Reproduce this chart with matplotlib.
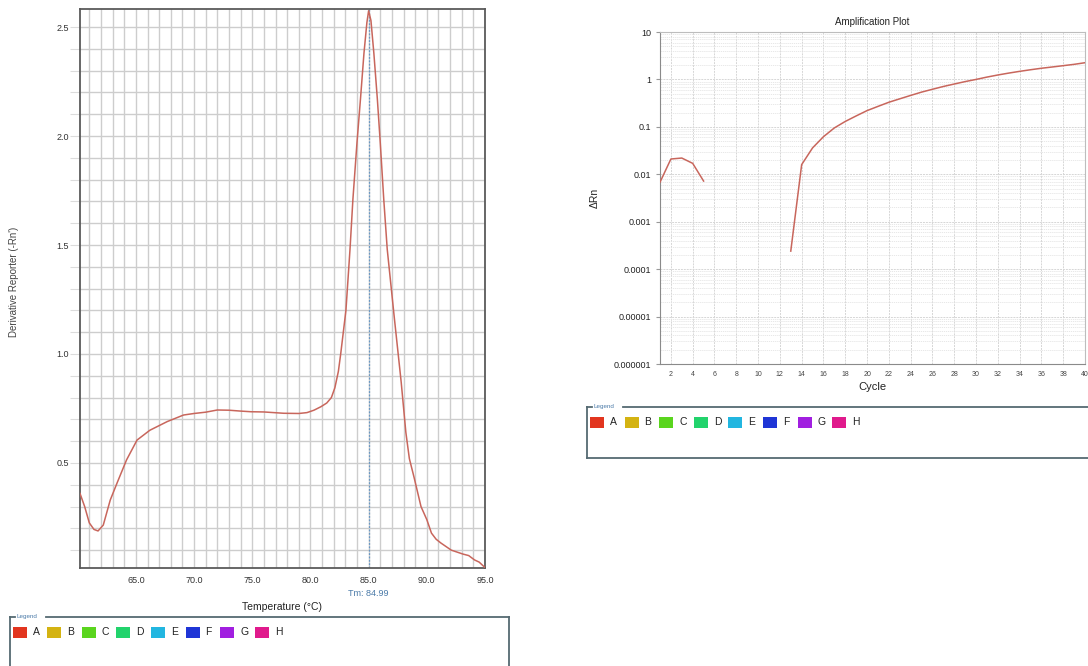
import numpy as np
import matplotlib.pyplot as plt
from matplotlib.patches import Rectangle
from matplotlib.lines import Line2D
from matplotlib.ticker import FixedLocator, NullFormatter

plt.rcParams['font.family'] = ['Liberation Sans', 'DejaVu Sans']

# melt curve (derivative reporter vs temperature)
melt_temp = [60.2, 60.6, 61.0, 61.4, 61.75, 62.2, 62.8, 63.4, 64.2, 65.1, 66.2, 67.7,
             69.1, 70.0, 71.0, 72.0, 73.0, 74.0, 74.9, 76.0, 77.7, 79.0, 79.7, 80.3,
             80.9, 81.4, 81.8, 82.1, 82.4, 82.6, 83.05, 83.4, 83.65, 84.0, 84.3, 84.6,
             84.85, 85.0, 85.2, 85.45, 85.75, 86.0, 86.3, 86.6, 87.2, 87.8, 88.2, 88.5,
             88.9, 89.5, 90.0, 90.4, 90.8, 91.2, 92.1, 93.1, 93.6, 94.1, 94.5, 95.0]
melt_deriv = [0.36, 0.30, 0.225, 0.195, 0.188, 0.215, 0.33, 0.41, 0.514, 0.605, 0.65, 0.69,
              0.72, 0.727, 0.733, 0.743, 0.742, 0.738, 0.735, 0.734, 0.728, 0.727, 0.731, 0.742,
              0.758, 0.775, 0.80, 0.845, 0.92, 1.0, 1.2, 1.48, 1.71, 1.97, 2.17, 2.38,
              2.52, 2.575, 2.53, 2.38, 2.17, 1.97, 1.71, 1.48, 1.17, 0.87, 0.64, 0.52,
              0.435, 0.30, 0.24, 0.178, 0.15, 0.133, 0.10, 0.082, 0.075, 0.055, 0.045, 0.02]
tm_value = 84.99
melt_xticks = [65, 70, 75, 80, 85, 90, 95]
melt_yticks = [0.5, 1.0, 1.5, 2.0, 2.5]

# amplification plot (log delta Rn vs cycle)
cycles_early = [1, 2, 3, 4, 5]
drn_early = [0.0068, 0.021, 0.022, 0.017, 0.0072]
cycles_late = list(range(13, 41))
drn_late = [0.00024, 0.016, 0.036, 0.062, 0.095, 0.13, 0.17, 0.22, 0.27, 0.33,
            0.39, 0.46, 0.54, 0.62, 0.71, 0.80, 0.90, 1.0, 1.12, 1.24,
            1.36, 1.48, 1.60, 1.72, 1.83, 1.95, 2.08, 2.25]
amp_yticks = [1e-6, 1e-5, 1e-4, 1e-3, 1e-2, 1e-1, 1, 10]
amp_ylabels = ['0.000001', '0.00001', '0.0001', '0.001', '0.01', '0.1', '1', '10']
amp_xticks = list(range(2, 41, 2))

wells = ['A', 'B', 'C', 'D', 'E', 'F', 'G', 'H']
well_colors = ['#e2351f', '#d4b312', '#5ad51e', '#22d36c', '#22b6e0', '#1f35d6', '#a11fe0', '#e01a8c']

W, H = 1088, 666
curve_color = '#c8665c'


def fx(px):
    return px / W


def fy(py):
    return 1 - py / H


fig = plt.figure(figsize=(W / 100, H / 100), dpi=100)
fig.patch.set_facecolor('white')

# ---------- melt curve ----------
ax1 = fig.add_axes([fx(80), fy(568), fx(485) - fx(80), fy(9) - fy(568)])
ax1.plot(melt_temp, melt_deriv, color=curve_color, lw=1.1, zorder=3)
ax1.axvline(tm_value, color='#6a98c4', lw=0.9, ls=(0, (1.5, 1.2)), zorder=2)
ax1.set_xlim(60.2, 95.0)
ax1.set_ylim(0.018, 2.583)
ax1.set_xticks(melt_xticks)
ax1.set_xticklabels([f'{t:.1f}' for t in melt_xticks])
ax1.set_yticks(melt_yticks)
ax1.set_yticklabels([f'{t:.1f}' for t in melt_yticks])
ax1.xaxis.set_minor_locator(FixedLocator(np.arange(61, 95, 1)))
ax1.yaxis.set_minor_locator(FixedLocator(np.arange(0.1, 2.6, 0.1)))
ax1.grid(which='both', color='#cdcdcd', lw=1.0, zorder=0)
ax1.tick_params(which='both', labelsize=6.5, colors='#dcdcdc', labelcolor='#333333',
                length=7, width=0.8, pad=1)
ax1.tick_params(axis='x', which='both', length=0, pad=6)
for s in ax1.spines.values():
    s.set_color('#5a5a5a')
    s.set_linewidth(1.3)
ax1.set_xlabel('Temperature (°C)', fontsize=7.5, color='#222222', labelpad=12)
fig.text(fx(14), fy(282), "Derivative Reporter (-Rn')", fontsize=7, color='#444444',
         rotation=90, ha='center', va='center')
fig.text(fx(368), fy(593), f'Tm: {tm_value}', color='#4a7aa8', fontsize=6.5,
         ha='center', va='center')

# ---------- amplification plot ----------
ax2 = fig.add_axes([fx(660), fy(364), fx(1085) - fx(660), fy(32) - fy(364)])
ax2.set_yscale('log')
ax2.plot(cycles_early, drn_early, color=curve_color, lw=1.1, zorder=3)
ax2.plot(cycles_late, drn_late, color=curve_color, lw=1.1, zorder=3)
ax2.set_xlim(1, 40)
ax2.set_ylim(1e-6, 10)
ax2.set_yticks(amp_yticks)
ax2.set_yticklabels(amp_ylabels)
ax2.yaxis.set_minor_formatter(NullFormatter())
ax2.set_xticks(amp_xticks)
ax2.grid(which='major', color='#d6d6d6', lw=0.7, ls=(0, (2, 1)), zorder=0)
ax2.grid(which='minor', axis='y', color='#e4e4e4', lw=0.6, ls=(0, (1.5, 1)), zorder=0)
ax2.tick_params(axis='y', which='major', labelsize=6.5, length=3, color='#999999',
                labelcolor='#222222')
ax2.tick_params(axis='y', which='minor', length=0)
ax2.tick_params(axis='x', labelsize=5, length=0, pad=5, labelcolor='#444444')
for s in ax2.spines.values():
    s.set_color('#bdbdbd')
    s.set_linewidth(0.8)
ax2.spines['left'].set_color('#8a8a8a')
ax2.spines['bottom'].set_color('#8a8a8a')
ax2.set_title('Amplification Plot', fontsize=7, color='#222222', pad=5)
ax2.set_xlabel('Cycle', fontsize=8, color='#222222', labelpad=3)
ax2.set_ylabel('ΔRn', fontsize=7.5, color='#222222', labelpad=10)


# ---------- legend boxes ----------
def legend_box(x0, y0, x1, y1):
    border = '#556a72'
    kw = dict(transform=fig.transFigure, color=border, lw=1.3)
    fig.add_artist(Line2D([fx(x0), fx(x0)], [fy(y0), fy(y1)], **kw))
    fig.add_artist(Line2D([fx(x0), fx(x0 + 5)], [fy(y0), fy(y0)], **kw))
    fig.add_artist(Line2D([fx(x0 + 36), fx(x1)], [fy(y0), fy(y0)], **kw))
    if x1 < W - 2:
        fig.add_artist(Line2D([fx(x1), fx(x1)], [fy(y0), fy(y1)], **kw))
    if y1 < H - 1:
        fig.add_artist(Line2D([fx(x0), fx(x1)], [fy(y1), fy(y1)], **kw))
    fig.text(fx(x0 + 7), fy(y0), 'Legend', fontsize=4.5, color='#4a7aa8',
             ha='left', va='center')
    for i, (name, col) in enumerate(zip(wells, well_colors)):
        sx = x0 + 3 + i * 34.6
        fig.add_artist(Rectangle((fx(sx), fy(y0 + 21)), fx(14), fy(0) - fy(11),
                                 transform=fig.transFigure, facecolor=col,
                                 edgecolor='none'))
        fig.text(fx(sx + 20), fy(y0 + 15.5), name, fontsize=7.5, color='#222222',
                 ha='left', va='center')


legend_box(9.5, 616.5, 509, 670)
legend_box(587, 406.5, 1092, 458)

fig.savefig('out.png', dpi=100)
